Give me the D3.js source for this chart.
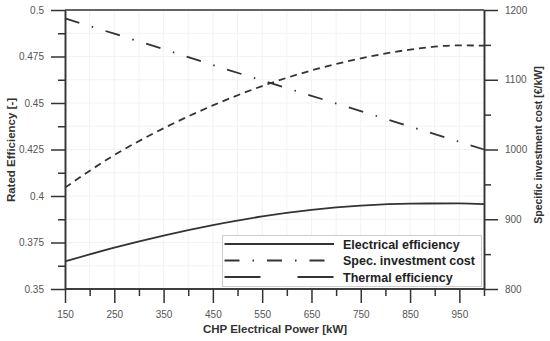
<!DOCTYPE html>
<html>
<head>
<meta charset="utf-8">
<script src="https://cdn.jsdelivr.net/npm/d3@7"></script>
<style>
  body { margin: 0; background: #fff; }
  svg { display: block; font-family: "Liberation Sans", Arial, sans-serif; }
</style>
</head>
<body>
<svg id="chart" width="550" height="341"></svg>
<script>
'use strict';

// CHP power [kW]
var power = [150, 250, 350, 450, 550, 650, 750, 850, 950, 1000];
var electricalEff = [0.3648, 0.3722, 0.3787, 0.3843, 0.3890, 0.3925, 0.3948, 0.3959, 0.3960, 0.3956];
var thermalEff = [0.4045, 0.4220, 0.4364, 0.4487, 0.4591, 0.4675, 0.4740, 0.4787, 0.4810, 0.4808];
var specCost = [1188, 1166, 1144, 1121, 1099, 1077, 1055, 1033, 1011, 1000];

var xTicks = [150, 250, 350, 450, 550, 650, 750, 850, 950];
var xMinor = [200, 300, 400, 500, 600, 700, 800, 900, 1000];
var effTicks = [0.35, 0.375, 0.4, 0.425, 0.45, 0.475, 0.5];
var effMinor = [0.3625, 0.3875, 0.4125, 0.4375, 0.4625, 0.4875];
var costTicks = [800, 900, 1000, 1100, 1200];
var costMinor = [850, 950, 1050, 1150];

var svg = d3.select('#chart');
var L = 65, R = 484, T = 10, B = 289;
var ink = '#333';

var x = d3.scaleLinear().domain([150, 1000]).range([L, R]);
var yEff = d3.scaleLinear().domain([0.35, 0.5]).range([B, T]);
var yCost = d3.scaleLinear().domain([800, 1200]).range([B, T]);

// faint grid
var grid = svg.append('g').attr('stroke', '#f2f2f2').attr('stroke-width', 1);
grid.selectAll('.gx').data(xTicks.concat(xMinor)).enter().append('line')
  .attr('x1', function (d) { return x(d); }).attr('x2', function (d) { return x(d); })
  .attr('y1', T).attr('y2', B);
grid.selectAll('.gy').data(effTicks.concat(effMinor)).enter().append('line')
  .attr('x1', L).attr('x2', R)
  .attr('y1', function (d) { return yEff(d); }).attr('y2', function (d) { return yEff(d); });

// frame top
svg.append('line').attr('x1', L).attr('x2', R).attr('y1', T).attr('y2', T)
  .attr('stroke', ink).attr('stroke-width', 1.5);

function styleAxis(g) {
  g.selectAll('.domain').attr('stroke', ink).attr('stroke-width', 1.5);
  g.selectAll('.tick line').attr('stroke', ink).attr('stroke-width', 1.5);
  g.selectAll('.tick text').attr('fill', '#555').style('font-size', '10px');
}

// x axis
var gx = svg.append('g').attr('transform', 'translate(0,' + B + ')');
gx.call(d3.axisBottom(x).tickValues(xMinor).tickSize(7).tickFormat(''));
gx.append('g').call(d3.axisBottom(x).tickValues(xTicks).tickSize(14).tickPadding(8).tickSizeOuter(0));
gx.selectAll('.domain').attr('d', 'M' + L + ',0H' + R);
styleAxis(gx);

// left axis
var gl = svg.append('g').attr('transform', 'translate(' + L + ',0)');
gl.call(d3.axisLeft(yEff).tickValues(effMinor).tickSize(7).tickFormat('').tickSizeOuter(0));
gl.append('g').call(d3.axisLeft(yEff).tickValues(effTicks).tickSize(14).tickPadding(7).tickSizeOuter(0)
  .tickFormat(function (d) { return String(+d.toFixed(3)); }));
styleAxis(gl);

// right axis
var gr = svg.append('g').attr('transform', 'translate(' + R + ',0)');
gr.call(d3.axisRight(yCost).tickValues(costMinor).tickSize(7).tickFormat('').tickSizeOuter(0));
gr.append('g').call(d3.axisRight(yCost).tickValues(costTicks).tickSize(14).tickPadding(7).tickSizeOuter(0)
  .tickFormat(d3.format('d')));
styleAxis(gr);

// axis titles
svg.append('text').attr('x', 275).attr('y', 333).attr('text-anchor', 'middle')
  .style('font-size', '11.5px').style('font-weight', 'bold').attr('fill', '#333')
  .text('CHP Electrical Power [kW]');
svg.append('text').attr('transform', 'translate(15,150) rotate(-90)').attr('text-anchor', 'middle')
  .style('font-size', '11.5px').style('font-weight', 'bold').attr('fill', '#333')
  .text('Rated Efficiency [-]');
svg.append('text').attr('transform', 'translate(542,145) rotate(-90)').attr('text-anchor', 'middle')
  .style('font-size', '10.5px').style('font-weight', 'bold').attr('fill', '#333')
  .text('Specific investment cost [€/kW]');

// curves
var lineEff = d3.line().curve(d3.curveMonotoneX)
  .x(function (d) { return x(d[0]); }).y(function (d) { return yEff(d[1]); });
var lineCost = d3.line()
  .x(function (d) { return x(d[0]); }).y(function (d) { return yCost(d[1]); });

svg.append('path').datum(d3.zip(power, electricalEff)).attr('d', lineEff)
  .attr('fill', 'none').attr('stroke', ink).attr('stroke-width', 1.8);
svg.append('path').datum(d3.zip(power, thermalEff)).attr('d', lineEff)
  .attr('fill', 'none').attr('stroke', ink).attr('stroke-width', 1.8).attr('stroke-dasharray', '7,5');
svg.append('path').datum(d3.zip(power, specCost)).attr('d', lineCost)
  .attr('fill', 'none').attr('stroke', ink).attr('stroke-width', 1.8).attr('stroke-dasharray', '15,13,1.5,13');

// legend
var legend = svg.append('g');
legend.append('rect').attr('x', 222.5).attr('y', 235.5).attr('width', 259).attr('height', 51)
  .attr('fill', '#fff').attr('stroke', '#ccc').attr('stroke-width', 1);
var legendItems = [
  { label: 'Electrical efficiency', dash: null, y: 244 },
  { label: 'Spec. investment cost', dash: '15,13,1.5,13', y: 260.5 },
  { label: 'Thermal efficiency', dash: '36,37', y: 277 }
];
legendItems.forEach(function (it) {
  legend.append('line').attr('x1', 224.5).attr('x2', 334).attr('y1', it.y).attr('y2', it.y)
    .attr('stroke', ink).attr('stroke-width', 1.8).attr('stroke-dasharray', it.dash);
  legend.append('text').attr('x', 343).attr('y', it.y + 4.5)
    .style('font-size', '12.5px').style('font-weight', 'bold').attr('fill', '#222')
    .text(it.label);
});
</script>
</body>
</html>
